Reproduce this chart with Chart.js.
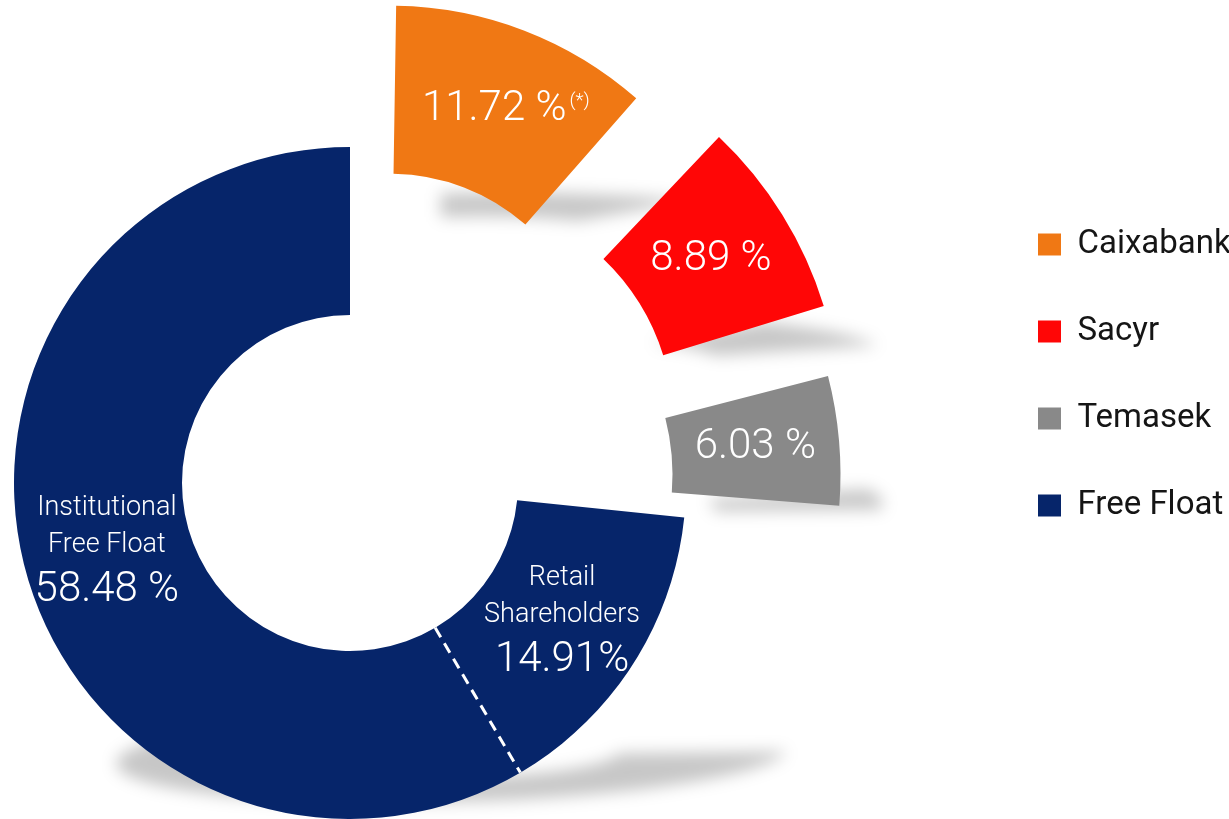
<!DOCTYPE html>
<html>
<head>
<meta charset="utf-8">
<title>Shareholder structure</title>
<script src="https://cdn.jsdelivr.net/npm/chart.js@4.4.1/dist/chart.umd.min.js"></script>
<style>
  html, body { margin: 0; padding: 0; background: #fff; overflow: hidden; }
  #wrap { position: relative; width: 1229px; height: 819px; overflow: hidden; }
  /* canvas is wider than the page so the doughnut sits left of centre */
  #shareChart { position: absolute; left: -284px; top: 0; }
</style>
</head>
<body>
<div id="wrap"><canvas id="shareChart" width="1513" height="819"></canvas></div>
<script>
// shareholders (legend order) and their stakes in %
const holders = ['Caixabank', 'Sacyr', 'Temasek', 'Free Float'];
const stakes = [11.72, 8.89, 6.03];
const stakeNotes = ['(*)', '', ''];

// free float breakdown, drawn inside the free float slice
const freeFloatParts = ['Retail\nShareholders', 'Institutional\nFree Float'];
const freeFloatStakes = [14.91, 58.48];

const holderColors = ['#F07814', '#FF0606', '#898989', '#06256A'];
const explode = [448, 470, 380, 0];

const freeFloatTotal = freeFloatStakes.reduce((a, b) => a + b, 0);
const LABEL_FONT = 'Roboto, "Noto Sans", sans-serif';

// where chart.js actually paints an arc (offset moves it out, small arcs also grow)
function arcGeom(arc) {
  const p = arc.getProps(['x', 'y', 'startAngle', 'endAngle', 'innerRadius', 'outerRadius'], true);
  const o = (arc.options.offset || 0) / 4;
  const mid = (p.startAngle + p.endAngle) / 2;
  const grow = o * (1 - Math.sin(Math.min(Math.PI, p.endAngle - p.startAngle)));
  return {
    cx: p.x + Math.cos(mid) * o,
    cy: p.y + Math.sin(mid) * o,
    r0: p.innerRadius + grow,
    r1: p.outerRadius + grow,
    a0: p.startAngle,
    a1: p.endAngle,
    mid: mid
  };
}

function arcPath(ctx, g) {
  ctx.beginPath();
  ctx.arc(g.cx, g.cy, g.r1, g.a0, g.a1);
  ctx.arc(g.cx, g.cy, g.r0, g.a1, g.a0, true);
  ctx.closePath();
}

// soft shadow of each slice squashed onto the "floor"
const floorShadow = {
  id: 'floorShadow',
  beforeDatasetsDraw(chart) {
    const ctx = chart.ctx;
    chart.getDatasetMeta(0).data.forEach(arc => {
      const g = arcGeom(arc);
      let top = Infinity, bottom = -Infinity, left = Infinity, right = -Infinity;
      for (let k = 0; k <= 40; k++) {
        const a = g.a0 + (g.a1 - g.a0) * k / 40;
        [g.r0, g.r1].forEach(r => {
          const x = g.cx + Math.cos(a) * r, y = g.cy + Math.sin(a) * r;
          top = Math.min(top, y); bottom = Math.max(bottom, y);
          left = Math.min(left, x); right = Math.max(right, x);
        });
      }
      const h = bottom - top;
      const k = 0.14;
      const cx = (left + right) / 2;
      ctx.save();
      ctx.filter = 'blur(8px)';
      ctx.fillStyle = 'rgba(0,0,0,0.22)';
      ctx.transform(1, -0.025, 0, k, 25 + 0.115 * h, bottom * (1 - k) - 0.025 * h + 0.025 * cx);
      arcPath(ctx, g);
      ctx.fill();
      ctx.restore();
    });
  }
};

function pctText(v, space) {
  return v.toFixed(2) + (space ? ' %' : '%');
}

const sliceLabels = {
  id: 'sliceLabels',
  afterDatasetsDraw(chart) {
    const ctx = chart.ctx;
    const arcs = chart.getDatasetMeta(0).data;
    ctx.save();
    ctx.fillStyle = '#fff';
    ctx.textBaseline = 'middle';

    // exploded holders
    stakes.forEach((v, i) => {
      const g = arcGeom(arcs[i]);
      const rm = (g.r0 + g.r1) / 2;
      const px = g.cx + Math.cos(g.mid) * rm;
      const py = g.cy + Math.sin(g.mid) * rm;
      const txt = pctText(v, true);
      ctx.font = '300 42px ' + LABEL_FONT;
      const w = ctx.measureText(txt).width;
      ctx.textAlign = 'left';
      ctx.fillText(txt, px - w / 2, py);
      if (stakeNotes[i]) {
        ctx.font = '300 19px ' + LABEL_FONT;
        ctx.fillText(stakeNotes[i], px + w / 2 + 3, py - 8);
      }
    });

    // free float split
    const ff = arcGeom(arcs[3]);
    const span = ff.a1 - ff.a0;
    const rm = (ff.r0 + ff.r1) / 2;
    let a = ff.a0;
    freeFloatStakes.forEach((v, j) => {
      const a1 = a + span * v / freeFloatTotal;
      if (j > 0) {
        ctx.save();
        ctx.strokeStyle = '#fff';
        ctx.lineWidth = 3;
        ctx.setLineDash([11, 7]);
        ctx.beginPath();
        ctx.moveTo(ff.cx + Math.cos(a) * ff.r0, ff.cy + Math.sin(a) * ff.r0);
        ctx.lineTo(ff.cx + Math.cos(a) * ff.r1, ff.cy + Math.sin(a) * ff.r1);
        ctx.stroke();
        ctx.restore();
      }
      const mid = (a + a1) / 2;
      const px = ff.cx + Math.cos(mid) * rm;
      const py = ff.cy + Math.sin(mid) * rm;
      const lines = freeFloatParts[j].split('\n');
      const y0 = py - 41;
      ctx.textAlign = 'center';
      ctx.font = '300 27px ' + LABEL_FONT;
      lines.forEach((ln, n) => ctx.fillText(ln, px, y0 + n * 37));
      ctx.font = '300 42px ' + LABEL_FONT;
      ctx.fillText(pctText(v, j > 0), px, y0 + lines.length * 37 + 8);
      a = a1;
    });
    ctx.restore();
  }
};

const shareChart = new Chart(document.getElementById('shareChart').getContext('2d'), {
  type: 'doughnut',
  data: {
    labels: holders,
    datasets: [{
      data: stakes.concat([freeFloatTotal]),
      backgroundColor: holderColors,
      borderWidth: 0,
      offset: explode,
      clip: false
    }]
  },
  options: {
    responsive: false,
    animation: false,
    events: [],
    radius: 336,
    cutout: '50%',
    layout: { padding: { left: 0, right: 0, top: 174, bottom: 27 } },
    plugins: {
      tooltip: { enabled: false },
      legend: {
        position: 'right',
        align: 'start',
        maxWidth: 245,
        labels: {
          boxWidth: 23,
          boxHeight: 22,
          padding: 54,
          color: '#151515',
          font: { family: LABEL_FONT, size: 33 }
        }
      }
    }
  },
  plugins: [floorShadow, sliceLabels]
});
</script>
</body>
</html>
